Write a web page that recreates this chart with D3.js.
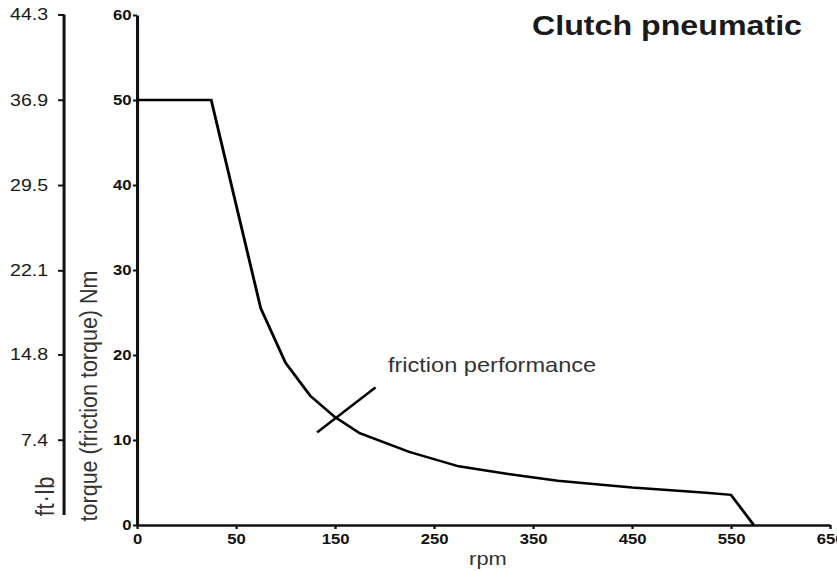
<!DOCTYPE html>
<html>
<head>
<meta charset="utf-8">
<script src="https://cdn.jsdelivr.net/npm/d3@7"></script>
<style>
  html, body { margin: 0; padding: 0; background: #fff; }
  svg { display: block; }
</style>
</head>
<body>
<script>
// ---- data ----
const tickVals = [0, 50, 150, 250, 350, 450, 550, 650];
const tickLabels = ["0", "50", "150", "250", "350", "450", "550", "650"];
const nmTicks = [0, 10, 20, 30, 40, 50, 60];
const ftlbTicks = [7.4, 14.8, 22.1, 29.5, 36.9, 44.3];
const rpm = [0, 37.5, 75, 100, 125, 150, 175, 225, 275, 325, 375, 450, 525, 550, 573];
const torqueNm = [50, 50, 25.5, 19.1, 15.2, 12.7, 10.8, 8.6, 6.9, 6.0, 5.2, 4.4, 3.8, 3.55, 0];
const annotRpm = [132, 191];
const annotNm = [10.9, 16.2];
const annotLabelAt = [203.5, 18.0];
const title = "Clutch pneumatic";
const seriesLabel = "friction performance";

// ---- layout ----
const W = 837, H = 571;
const S = 1.15; // horizontal stretch of the whole drawing
const x0 = 119.1, x1 = 721.7;
const yTop = 15, yBot = 525;
const FONT = '"Liberation Sans", Arial, Helvetica, sans-serif';

const svg = d3.select("body").append("svg").attr("width", W).attr("height", H);
svg.append("rect").attr("width", W).attr("height", H).attr("fill", "#fff");
const g = svg.append("g").attr("transform", `scale(${S},1)`);

const x = d3.scaleLinear()
  .domain(tickVals)
  .range(tickVals.map((d, i) => x0 + i * (x1 - x0) / (tickVals.length - 1)));
const y = d3.scaleLinear().domain([0, 60]).range([yBot, yTop]);
const yFt = d3.scaleLinear().domain([0, 60 * 0.73756]).range([yBot, yTop]);

// main y axis
const gy = g.append("g").attr("transform", `translate(${x0},0)`)
  .attr("font-family", FONT).attr("font-size", 14.5)
  .call(d3.axisLeft(y).tickValues(nmTicks).tickSize(3.5).tickPadding(1.3).tickSizeOuter(0));
gy.attr("font-family", FONT).attr("font-size", 14.5);
gy.select(".domain").attr("stroke", "#111").attr("stroke-width", 2.7);
gy.selectAll(".tick line").attr("stroke", "#111").attr("stroke-width", 2);
gy.selectAll(".tick text").attr("font-weight", "bold").attr("fill", "#111");

// x axis
const gx = g.append("g").attr("transform", `translate(0,${yBot})`)
  .call(d3.axisBottom(x).tickValues(tickVals).tickFormat((d, i) => tickLabels[i])
    .tickSize(4).tickPadding(4.5).tickSizeOuter(0));
gx.attr("font-family", FONT).attr("font-size", 14.5);
gx.select(".domain").attr("stroke", "#111").attr("stroke-width", 2.7);
gx.selectAll(".tick line").attr("stroke", "#111").attr("stroke-width", 2);
gx.selectAll(".tick text").attr("font-weight", "bold").attr("fill", "#111");

// left ft·lb axis
const xl = 55.7;
const gl = g.append("g").attr("transform", `translate(${xl},0)`)
  .call(d3.axisLeft(yFt).tickValues(ftlbTicks).tickFormat(d3.format(".1f"))
    .tickSize(5.2).tickPadding(8.7).tickSizeOuter(0));
gl.attr("font-family", FONT).attr("font-size", 17);
gl.select(".domain").remove();
gl.append("line").attr("x1", 0).attr("x2", 0)
  .attr("y1", yFt(ftlbTicks[ftlbTicks.length - 1])).attr("y2", y(0) - 10)
  .attr("stroke", "#111").attr("stroke-width", 2.6);
gl.selectAll(".tick line").attr("stroke", "#111").attr("stroke-width", 2);
gl.selectAll(".tick text").attr("fill", "#1a1a1a");

// axis titles
g.append("text").attr("transform", `translate(47,496) rotate(-90)`)
  .attr("font-family", FONT).attr("text-anchor", "middle").attr("font-size", 22)
  .attr("letter-spacing", 0.8).attr("fill", "#333").text("ft·lb");
g.append("text").attr("transform", `translate(84.3,396) rotate(-90)`)
  .attr("font-family", FONT).attr("text-anchor", "middle").attr("font-size", 21.5)
  .attr("fill", "#333").text("torque (friction torque) Nm");
g.append("text").attr("x", 424.3).attr("y", 565).attr("text-anchor", "middle")
  .attr("font-family", FONT).attr("font-size", 19).attr("fill", "#333").text("rpm");

// title
g.append("text").attr("x", 697.4).attr("y", 35).attr("text-anchor", "end")
  .attr("font-family", FONT).attr("font-size", 28).attr("font-weight", "bold")
  .attr("fill", "#1a1a1a").text(title);

// curve
const pts = rpm.map((r, i) => [r, torqueNm[i]]);
g.append("path").datum(pts)
  .attr("d", d3.line().x(d => x(d[0])).y(d => y(d[1])))
  .attr("fill", "none").attr("stroke", "#000").attr("stroke-width", 2.5)
  .attr("stroke-linejoin", "miter");

// annotation leader + label
g.append("line")
  .attr("x1", x(annotRpm[0])).attr("y1", y(annotNm[0]))
  .attr("x2", x(annotRpm[1])).attr("y2", y(annotNm[1]))
  .attr("stroke", "#000").attr("stroke-width", 2.4);
g.append("text").attr("x", x(annotLabelAt[0])).attr("y", y(annotLabelAt[1]))
  .attr("font-family", FONT).attr("font-size", 20.5).attr("fill", "#333").text(seriesLabel);
</script>
</body>
</html>
